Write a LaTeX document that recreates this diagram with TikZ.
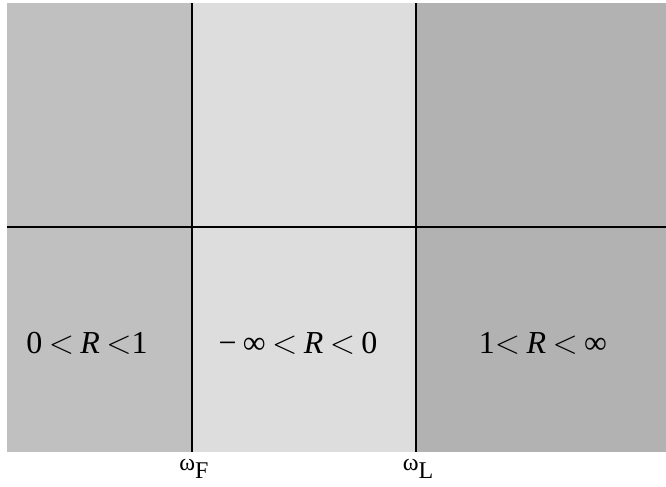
\documentclass[tikz,border=0pt]{standalone}
\usepackage{fontspec}
\setmainfont{Liberation Serif}
\definecolor{leftgray}{HTML}{C0C0C0}
\definecolor{midgray}{HTML}{DDDDDD}
\definecolor{rightgray}{HTML}{B2B2B2}
\newcommand{\lsym}{\hspace{0.2em}$<$\hspace{0.2em}}
\tikzset{
  divider/.style={line width=1.5pt, black},
  rlabel/.style={font=\fontsize{24}{28}\selectfont, inner sep=0pt},
  wlabel/.style={font=\fontsize{18}{21}\selectfont, inner sep=0pt}
}
\begin{document}
\begin{tikzpicture}[x=0.75pt,y=-0.75pt]
\useasboundingbox (0,0) rectangle (666,486);
\fill[leftgray] (7,3) rectangle (192,452);
\fill[midgray] (192,3) rectangle (416,452);
\fill[rightgray] (416,3) rectangle (666,452);
\coordinate (hl) at (7,227);
\coordinate (hr) at (666,227);
\coordinate (ft) at (192,3);
\coordinate (fb) at (192,452);
\coordinate (lt) at (416,3);
\coordinate (lb) at (416,452);
\draw[divider] (hl) -- (hr);
\draw[divider] (ft) -- (fb);
\draw[divider] (lt) -- (lb);
\node[rlabel] (r1) at (87,343) {0\lsym\textit{R}\hspace{0.2em}$<$1};
\node[rlabel] (r2) at (298,343) {−\hspace{0.2em}∞\lsym\textit{R}\lsym 0};
\node[rlabel] (r3) at (543,343) {1$<$\hspace{0.2em}\textit{R}\lsym∞};
\node[wlabel, anchor=base] (wf) at (194,470) {ω\raisebox{-0.35em}{F}};
\node[wlabel, anchor=base] (wl) at (418,470) {ω\raisebox{-0.35em}{L}};
\end{tikzpicture}
\end{document}
